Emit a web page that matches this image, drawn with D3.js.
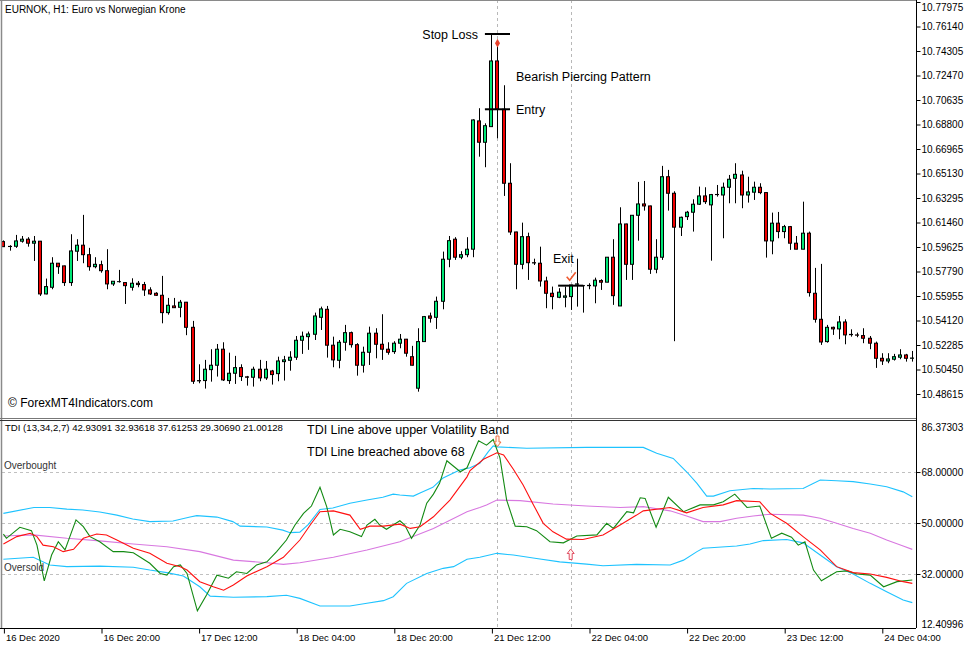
<!DOCTYPE html>
<html><head><meta charset="utf-8">
<script src="https://cdn.jsdelivr.net/npm/d3@7"></script>
<style>body{margin:0;background:#fff;overflow:hidden}svg{display:block;font-family:"Liberation Sans",Arial,sans-serif}</style>
</head><body><svg id="c" width="977" height="650"></svg>
<script>
// ---------- DATA ----------
const opens=[10.6003,10.5967,10.5968,10.6006,10.6021,10.5991,10.6006,10.5611,10.5661,10.5841,
10.5821,10.5696,10.5931,10.5976,10.5905,10.5815,10.5830,10.5785,10.5686,10.5703,
10.5696,10.5661,10.5691,10.5681,10.5641,10.5616,10.5601,10.5471,10.5521,10.5511,
10.5549,10.5361,10.4962,10.4962,10.5044,10.5077,10.5197,10.4962,10.5017,10.5059,
10.4990,10.4987,10.5047,10.4982,10.5034,10.5014,10.5104,10.5114,10.5137,10.5264,
10.5291,10.5309,10.5436,10.5496,10.5227,10.5114,10.5249,10.5321,10.5231,10.5077,
10.5174,10.5317,10.5234,10.5197,10.5179,10.5242,10.5272,10.5141,10.4905,10.5254,
10.5446,10.5436,10.5556,10.5871,10.6021,10.5886,10.5905,10.5946,10.6907,10.6747,
10.6864,10.7356,10.6994,10.6440,10.6075,10.5833,10.6040,10.5845,10.5841,10.5708,
10.5616,10.5586,10.5586,10.5591,10.5684,10.5673,10.5673,10.5671,10.5711,10.5699,
10.5886,10.5521,10.6135,10.5833,10.6200,10.6285,10.6270,10.5796,10.5886,10.6489,
10.6365,10.6111,10.6190,10.6223,10.6283,10.6345,10.6278,10.6355,10.6352,10.6410,
10.6477,10.6502,10.6352,10.6373,10.6410,10.6370,10.6008,10.6141,10.6078,10.6115,
10.5991,10.5946,10.6066,10.5616,10.5421,10.5254,10.5361,10.5349,10.5401,10.5306,
10.5304,10.5299,10.5279,10.5242,10.5129,10.5109,10.5122,10.5137,10.5154,10.5129];
const highs=[10.6012,10.5976,10.6053,10.6045,10.6036,10.6045,10.6008,10.5726,10.5886,10.5843,
10.5823,10.6058,10.6021,10.6203,10.5956,10.5886,10.5860,10.5946,10.5706,10.5791,
10.5698,10.5728,10.5708,10.5701,10.5661,10.5624,10.5746,10.5581,10.5581,10.5566,
10.5551,10.5409,10.5084,10.5117,10.5197,10.5236,10.5249,10.5171,10.5147,10.5084,
10.4997,10.5066,10.5117,10.5109,10.5042,10.5141,10.5147,10.5182,10.5296,10.5329,
10.5329,10.5471,10.5516,10.5521,10.5291,10.5266,10.5379,10.5329,10.5242,10.5216,
10.5366,10.5354,10.5459,10.5249,10.5257,10.5311,10.5274,10.5222,10.5354,10.5446,
10.5471,10.5591,10.5928,10.6045,10.6036,10.5931,10.6036,10.6919,10.7002,10.6889,
10.7558,10.7489,10.7174,10.6590,10.6077,10.6145,10.6070,10.5875,10.5965,10.5740,
10.5666,10.5654,10.5666,10.5678,10.5875,10.5675,10.5691,10.5733,10.5721,10.5886,
10.6021,10.6260,10.6137,10.6200,10.6450,10.6457,10.6272,10.6021,10.6570,10.6540,
10.6380,10.6190,10.6233,10.6320,10.6415,10.6410,10.6360,10.6427,10.6445,10.6502,
10.6590,10.6534,10.6489,10.6452,10.6440,10.6372,10.6220,10.6225,10.6128,10.6120,
10.6045,10.6302,10.6078,10.5806,10.5836,10.5379,10.5366,10.5446,10.5421,10.5346,
10.5321,10.5354,10.5296,10.5254,10.5167,10.5167,10.5162,10.5197,10.5162,10.5184];
const lows=[10.5963,10.5935,10.5956,10.5995,10.5965,10.5858,10.5596,10.5608,10.5646,10.5761,
10.5671,10.5671,10.5858,10.5841,10.5785,10.5803,10.5770,10.5646,10.5671,10.5696,
10.5536,10.5636,10.5661,10.5596,10.5603,10.5596,10.5391,10.5456,10.5506,10.5436,
10.5302,10.4937,10.4942,10.4902,10.4954,10.4992,10.4959,10.4937,10.4937,10.4959,
10.4924,10.4917,10.4957,10.4967,10.4932,10.4957,10.4962,10.5036,10.5117,10.5162,
10.5192,10.5266,10.5341,10.5134,10.5062,10.5054,10.5186,10.5209,10.4999,10.5022,
10.5079,10.5129,10.5117,10.5156,10.5162,10.5204,10.5141,10.5075,10.4879,10.5254,
10.5396,10.5349,10.5496,10.5811,10.5866,10.5871,10.5886,10.5886,10.6639,10.6560,
10.6864,10.6777,10.6345,10.6053,10.5646,10.5796,10.5716,10.5828,10.5666,10.5504,
10.5496,10.5579,10.5511,10.5491,10.5516,10.5471,10.5646,10.5541,10.5641,10.5699,
10.5529,10.5521,10.5716,10.5716,10.6010,10.6235,10.5761,10.5766,10.5866,10.6235,
10.5257,10.6045,10.6165,10.6078,10.6278,10.6285,10.5860,10.6340,10.6028,10.6290,
10.6290,10.6253,10.6295,10.6315,10.6358,10.5883,10.5908,10.6028,10.6028,10.5941,
10.5946,10.5946,10.5591,10.5396,10.5229,10.5246,10.5304,10.5272,10.5234,10.5291,
10.5287,10.5242,10.5197,10.5057,10.5079,10.5092,10.5112,10.5122,10.5104,10.5104];
const closes=[10.5965,10.5966,10.6008,10.6021,10.5991,10.6006,10.5611,10.5666,10.5841,10.5815,
10.5696,10.5933,10.5976,10.5905,10.5815,10.5833,10.5785,10.5686,10.5706,10.5703,
10.5673,10.5691,10.5681,10.5641,10.5611,10.5601,10.5471,10.5526,10.5508,10.5549,
10.5361,10.4957,10.4960,10.5047,10.5077,10.5197,10.4967,10.5017,10.5059,10.4992,
10.4987,10.5047,10.4982,10.5047,10.5007,10.5109,10.5117,10.5137,10.5264,10.5294,
10.5311,10.5446,10.5499,10.5227,10.5117,10.5249,10.5321,10.5231,10.5077,10.5174,
10.5317,10.5234,10.5197,10.5174,10.5242,10.5272,10.5167,10.5077,10.5254,10.5441,
10.5429,10.5556,10.5871,10.6010,10.5886,10.5905,10.5946,10.6914,10.6747,10.6871,
10.7356,10.6994,10.6440,10.6075,10.5833,10.6040,10.5845,10.5843,10.5708,10.5616,
10.5591,10.5624,10.5596,10.5678,10.5686,10.5673,10.5675,10.5714,10.5699,10.5886,
10.5598,10.6135,10.5833,10.6200,10.6285,10.6270,10.5796,10.5886,10.6489,10.6365,
10.6111,10.6185,10.6223,10.6283,10.6345,10.6302,10.6355,10.6356,10.6410,10.6470,
10.6507,10.6352,10.6375,10.6410,10.6370,10.6008,10.6141,10.6078,10.6115,10.5991,
10.5946,10.6066,10.5621,10.5421,10.5251,10.5361,10.5349,10.5401,10.5304,10.5308,
10.5302,10.5279,10.5242,10.5129,10.5109,10.5124,10.5141,10.5154,10.5129,10.5131];

const priceTicks=[10.48615,10.50450,10.52285,10.54120,10.55955,10.57790,10.59625,10.61460,10.63295,10.65130,10.66965,10.68800,10.70635,10.72470,10.74305,10.76140,10.77975];
const tdiTicks=[12.40996,32,50,68,86.37303];
const tdiLevels=[32,50,68];
const dateIdx=[0,16,32,48,64,80,96,112,128,144];
const dateLabels=["16 Dec 2020","16 Dec 20:00","17 Dec 12:00","18 Dec 04:00","18 Dec 20:00","21 Dec 12:00","22 Dec 04:00","22 Dec 20:00","23 Dec 12:00","24 Dec 04:00"];

// TDI lines: [bar index, value]
const upperBand=[[0,53.4],[5,55.5],[7.6,55.5],[10.4,54.9],[13,54.6],[15.8,53.9],[18.6,52.8],[21.2,51.4],[24,50.5],[27.8,50.7],[30.6,52.1],[31.7,52.6],[35,52.1],[37.6,50.5],[38.8,48.9],[43.2,48.6],[45.8,47.5],[47,46.6],[48.6,46.8],[50,49.5],[51.9,54.8],[54,55.3],[56.8,57.0],[59.6,58.1],[62.2,59.1],[63.9,60.2],[65,59.9],[67.2,59.5],[68.3,60.6],[70.4,62.6],[72,65.8],[74.8,68.7],[76.5,69.5],[78.1,71.1],[79.5,75.2],[80.3,77.2],[80.9,76.9],[85.8,76.4],[95.6,76.7],[104.9,76.7],[107.1,74.6],[109.8,72.8],[112,68.1],[113.7,64.0],[115.3,59.5],[116.4,59.5],[119.1,61.4],[122.9,62.2],[125.7,62.0],[131.1,62.2],[133.9,65.2],[136.6,64.9],[139.3,64.6],[142.1,63.8],[144.8,62.8],[147.5,61.0],[149,59.3]];
const lowerBand=[[0,37.2],[4.9,37.9],[7.6,35.2],[10.4,34.6],[15.8,34.8],[21.3,34.4],[24,33.4],[26.8,32.5],[29.5,31.3],[32.2,27.5],[33.9,24.2],[37.7,23.8],[43.2,24.0],[46.4,24.5],[48.6,23.4],[51.9,20.7],[56.8,20.7],[59.6,21.7],[62.3,22.6],[63.9,24.0],[66.1,28.7],[69.4,32.2],[72.1,34.0],[73.8,34.6],[76,37.2],[78.1,37.9],[80.9,39.3],[83.6,38.7],[87.4,37.5],[91.2,36.3],[95.6,35.5],[98.3,34.9],[103.8,35.4],[109.3,35.2],[111.5,36.9],[113.7,39.9],[114.7,41.1],[120.2,41.9],[122.4,42.6],[124.6,43.8],[128.4,44.2],[131.1,43.0],[133.9,38.7],[136.6,34.6],[139.3,32.0],[142.1,28.7],[144.8,25.7],[147.5,22.8],[149,21.9]];
const marketBase=[[0,45.4],[4.9,45.8],[10.4,44.6],[15.8,43.7],[21.3,42.6],[26.8,41.6],[32.2,39.9],[37.7,36.9],[43.2,36.0],[45.9,35.4],[48.6,36.0],[54.1,37.9],[59.6,40.5],[65,43.4],[70.5,48.1],[76,54.0],[78.1,55.5],[79.2,56.4],[80.9,58.1],[84.7,57.9],[90.1,56.7],[95.6,56.0],[101.1,55.5],[104.9,55.8],[109.3,54.3],[112,52.5],[114.7,50.5],[117.5,50.5],[120.2,51.7],[122.9,52.5],[125.7,53.1],[131.1,52.8],[133.9,51.7],[136.6,49.9],[139.3,48.1],[142.1,46.4],[144.8,44.0],[147.5,41.9],[149,40.7]];
const signalLine=[[0,42.6],[2.2,45.2],[4.4,46.4],[5.5,45.2],[6.5,42.2],[8.2,41.6],[9.8,39.9],[11.5,40.7],[13.1,44.6],[15.3,46.1],[16.9,45.8],[18.6,44.0],[21.3,41.1],[24,39.3],[26.8,35.8],[29,34.6],[30.1,33.4],[32.2,29.3],[34.4,27.5],[36.1,26.3],[37.7,28.1],[39.9,31.3],[43.2,34.6],[45.9,37.9],[48.6,44.0],[50.3,49.3],[51.9,54.0],[54.1,54.3],[56.8,52.8],[58.5,47.8],[60.1,48.9],[62.3,48.9],[65,49.6],[66.7,48.1],[68.3,48.7],[70.5,52.2],[73.2,58.1],[76,66.3],[76.5,68.5],[78.7,72.5],[80.9,74.8],[82,74.0],[83.6,69.0],[85.2,63.4],[86.9,56.4],[88.5,49.9],[90.1,46.9],[92.3,44.3],[95,44.2],[98.3,45.8],[101.1,49.3],[103.8,52.8],[104.9,54.3],[109.3,55.5],[112,53.6],[114.7,55.5],[118,56.4],[120.2,57.9],[124,57.5],[125.7,53.4],[128.4,49.9],[131.1,45.2],[133.9,40.5],[136.6,34.6],[139.3,32.5],[142.1,32.0],[144.8,30.8],[147.5,29.3],[149,28.7]];
const rsiLine=[[0,46.1],[0.5,44.6],[2.7,48.5],[4.6,47.3],[5.5,42.2],[6.7,29.6],[7.9,38.7],[9,43.4],[10.1,40.5],[11.9,51.1],[13.1,48.7],[14.2,45.2],[15.8,43.4],[18,39.9],[19.7,39.9],[21.3,39.5],[24,35.8],[25.7,32.2],[26.8,31.6],[27.9,34.6],[29,35.2],[30.1,32.2],[31.8,19.0],[33.3,24.6],[35,31.6],[36.9,30.5],[38.2,32.8],[39.9,32.2],[41.5,35.2],[43.2,36.3],[44.8,39.9],[46.4,44.0],[47.8,49.3],[49.2,53.4],[50.5,56.0],[51.9,62.6],[53,55.8],[54.1,45.8],[55.2,47.8],[56.8,46.9],[58.7,45.2],[59.6,49.3],[60.9,51.3],[61.7,49.3],[62.8,47.8],[65,50.8],[65.8,49.3],[66.9,44.6],[68.3,49.3],[69.4,57.0],[70.5,60.2],[71.5,64.0],[72.7,72.0],[74.9,68.1],[76,69.5],[77.9,79.0],[79.2,77.5],[80.3,79.5],[81.4,73.0],[82.5,58.1],[83.9,48.9],[85.8,48.7],[87.4,47.3],[89.6,43.4],[91.8,43.0],[94,45.4],[97.3,45.8],[98.9,49.9],[100,48.1],[102.2,54.0],[103.3,53.6],[104.4,58.9],[105.2,58.7],[107,48.5],[109,59.1],[111.5,54.0],[114.2,56.4],[116.4,56.4],[118,57.5],[119.9,60.2],[121.9,55.5],[124,56.0],[125.9,44.6],[127.6,46.4],[129.2,45.0],[130.3,42.2],[131.4,43.4],[132.8,33.4],[134.1,29.6],[136.6,32.8],[138.3,33.1],[139.9,32.0],[142.1,31.6],[144.3,27.5],[146.5,29.3],[149,29.9]];

const stopLoss=10.7558, entryPrice=10.6994, exitPrice=10.5673;
const patternBars=[80,81], exitBar=93;

// ---------- LAYOUT ----------
const svg=d3.select("#c");
const AX=916, MAIN_BOT=418, TDI_TOP=421, TDI_BOT=628;
const x=d3.scaleLinear().domain([0,149]).range([3.4,912.3]);
const yP=d3.scaleLinear().domain([10.48615,10.76140]).range([394,26.5]);
const yT=d3.scaleLinear().domain([12.40996,86.37303]).range([629.5,420]);

const defs=svg.append("defs");
defs.append("clipPath").attr("id","cm").append("rect").attr("x",2).attr("y",0).attr("width",AX-2).attr("height",MAIN_BOT);
defs.append("clipPath").attr("id","ct").append("rect").attr("x",2).attr("y",TDI_TOP).attr("width",AX-2).attr("height",TDI_BOT-TDI_TOP);

// vertical dashed markers
[patternBars[1],exitBar].forEach(k=>{
  svg.append("line").attr("x1",Math.round(x(k))+0.5).attr("x2",Math.round(x(k))+0.5).attr("y1",0).attr("y2",TDI_BOT)
    .attr("stroke","#b8b8b8").attr("stroke-dasharray","3,3");
});

// ---------- CANDLES ----------
const gm=svg.append("g").attr("clip-path","url(#cm)");
const idx=d3.range(opens.length);
gm.selectAll("line.w").data(idx).join("line").attr("class","w")
  .attr("x1",k=>Math.round(x(k))+0.5).attr("x2",k=>Math.round(x(k))+0.5)
  .attr("y1",k=>yP(highs[k])).attr("y2",k=>yP(lows[k]))
  .attr("stroke","#000").attr("stroke-width",1);
gm.selectAll("rect.b").data(idx).join("rect").attr("class","b")
  .attr("x",k=>Math.round(x(k))-1.5)
  .attr("width",3)
  .attr("y",k=>Math.min(yP(opens[k]),yP(closes[k])))
  .attr("height",k=>Math.max(0.01,Math.abs(yP(opens[k])-yP(closes[k]))))
  .attr("fill",k=>closes[k]>opens[k]?"#00e676":(closes[k]<opens[k]?"#f00000":"#000"))
  .attr("stroke","#000").attr("stroke-width",1);

// ---------- TDI ----------
const gt=svg.append("g").attr("clip-path","url(#ct)");
tdiLevels.forEach(v=>{
  gt.append("line").attr("x1",2).attr("x2",AX).attr("y1",Math.round(yT(v))+0.5).attr("y2",Math.round(yT(v))+0.5)
    .attr("stroke","#c0c0c0").attr("stroke-dasharray","3,3");
});
const ln=d3.line().x(d=>x(d[0])).y(d=>yT(d[1]));
[[upperBand,"#1ec3ff"],[lowerBand,"#1ec3ff"],[marketBase,"#d878e0"],[rsiLine,"#138a13"],[signalLine,"#ff1010"]].forEach(([d,c])=>{
  gt.append("path").attr("d",ln(d)).attr("fill","none").attr("stroke",c).attr("stroke-width",1.1);
});

// ---------- FRAME & AXES ----------
svg.append("line").attr("x1",1.5).attr("x2",1.5).attr("y1",0).attr("y2",TDI_BOT).attr("stroke","#8a8a8a").attr("stroke-width",1.5);
svg.append("line").attr("x1",0).attr("x2",AX).attr("y1",0.5).attr("y2",0.5).attr("stroke","#8a8a8a");
svg.append("line").attr("x1",0).attr("x2",AX).attr("y1",MAIN_BOT+0.5).attr("y2",MAIN_BOT+0.5).attr("stroke","#777");
svg.append("line").attr("x1",0).attr("x2",AX).attr("y1",TDI_TOP-0.5).attr("y2",TDI_TOP-0.5).attr("stroke","#333");
svg.append("line").attr("x1",AX+0.5).attr("x2",AX+0.5).attr("y1",0).attr("y2",TDI_BOT).attr("stroke","#000");
svg.append("line").attr("x1",0).attr("x2",AX).attr("y1",TDI_BOT+0.5).attr("y2",TDI_BOT+0.5).attr("stroke","#000");

const pa=svg.append("g").attr("transform",`translate(${AX+0.5},0)`)
  .call(d3.axisRight(yP).tickValues(priceTicks).tickSize(4).tickPadding(1).tickFormat(d=>d.toFixed(5)));
pa.select(".domain").remove();
pa.selectAll("text").attr("font-size",10).attr("fill","#000").attr("font-family","Liberation Sans, Arial, sans-serif")
  .attr("dy",d=>yP(d)<6?"0.8em":"0.32em");
pa.selectAll("line").attr("stroke","#000");

const ta=svg.append("g").attr("transform",`translate(${AX+0.5},0)`)
  .call(d3.axisRight(yT).tickValues(tdiTicks).tickSize(4).tickPadding(1).tickFormat(d=>d.toFixed(5)));
ta.select(".domain").remove();
ta.selectAll("text").attr("font-size",10).attr("fill","#000").attr("font-family","Liberation Sans, Arial, sans-serif")
  .attr("dy",d=>d>80?"1.0em":(d<15?"-0.25em":"0.32em"));
ta.selectAll("line").attr("stroke","#000").attr("opacity",d=>(d>80||d<15)?0:1);

const xa=svg.append("g").attr("transform",`translate(0,${TDI_BOT+0.5})`)
  .call(d3.axisBottom(x).tickValues(dateIdx).tickSize(5).tickPadding(1).tickFormat((d,i)=>dateLabels[i]));
xa.select(".domain").remove();
xa.selectAll("line").attr("stroke","#000").attr("transform","translate(0.5,0)");
xa.selectAll("text").attr("font-size",9.5).attr("fill","#000").attr("text-anchor","start").attr("dx",2)
  .attr("font-family","Liberation Sans, Arial, sans-serif");

// ---------- TEXTS & ANNOTATIONS ----------
function txt(s,px,py,size,opts={}){
  const t=svg.append("text").attr("x",px).attr("y",py).attr("font-size",size).attr("fill",opts.fill||"#000")
    .attr("dominant-baseline","middle").text(s);
  if(opts.anchor) t.attr("text-anchor",opts.anchor);
  return t;
}
txt("EURNOK, H1:  Euro vs Norwegian Krone",5,10,10);
txt("© ForexMT4Indicators.com",8,404,12);
txt("TDI (13,34,2,7) 42.93091 32.93618 37.61253 29.30690 21.00128",5,428,9.6);
txt("Overbought",4,yT(68)-6,10,{fill:"#333"});
txt("Oversold",4,yT(32)-6,10,{fill:"#333"});
txt("TDI Line above upper Volatility Band",307,431,12.5);
txt("TDI Line breached above 68",307,453,12.5);

const xl=x(patternBars[0])-6.5, xr=x(patternBars[1])+12.5;
svg.append("line").attr("x1",xl).attr("x2",xr).attr("y1",yP(stopLoss)).attr("y2",yP(stopLoss)).attr("stroke","#000").attr("stroke-width",2);
svg.append("line").attr("x1",xl).attr("x2",xr).attr("y1",yP(entryPrice)).attr("y2",yP(entryPrice)).attr("stroke","#000").attr("stroke-width",2);
txt("Stop Loss",xl-7,yP(stopLoss)+2,12.5,{anchor:"end"});
txt("Entry",xr+6,yP(entryPrice)+1,12.5);
txt("Bearish Piercing Pattern",xr+6,78,12.5);
svg.append("path").attr("d",d3.symbol(d3.symbolDiamond,22)()).attr("fill","#e8402a")
  .attr("transform",`translate(${x(patternBars[1])},${yP(highs[patternBars[1]])})`);

const ex1=x(exitBar-1)-6.5, ex2=x(exitBar+1)+6.5;
svg.append("line").attr("x1",ex1).attr("x2",ex2).attr("y1",yP(exitPrice)).attr("y2",yP(exitPrice)).attr("stroke","#000").attr("stroke-width",2);
txt("Exit",553,260,12.5);
svg.append("path").attr("d",`M${x(exitBar)-4},${yP(exitPrice)-9} l3,3.5 l6,-8`).attr("fill","none").attr("stroke","#f05a30").attr("stroke-width",1.6);

// arrows in TDI
function arrow(cx,tipY,dir,color){
  const s=dir; // -1 up, 1 down
  const p=`M${cx},${tipY} L${cx+3.5},${tipY-s*4.5} L${cx+1.5},${tipY-s*4.5} L${cx+1.5},${tipY-s*10.5} L${cx-1.5},${tipY-s*10.5} L${cx-1.5},${tipY-s*4.5} L${cx-3.5},${tipY-s*4.5} Z`;
  svg.append("path").attr("d",p).attr("fill","#fff5f0").attr("stroke",color).attr("stroke-width",1);
}
arrow(x(patternBars[1]),446.5,1,"#f07040");
arrow(x(exitBar),549,-1,"#e04a60");
</script></body></html>
